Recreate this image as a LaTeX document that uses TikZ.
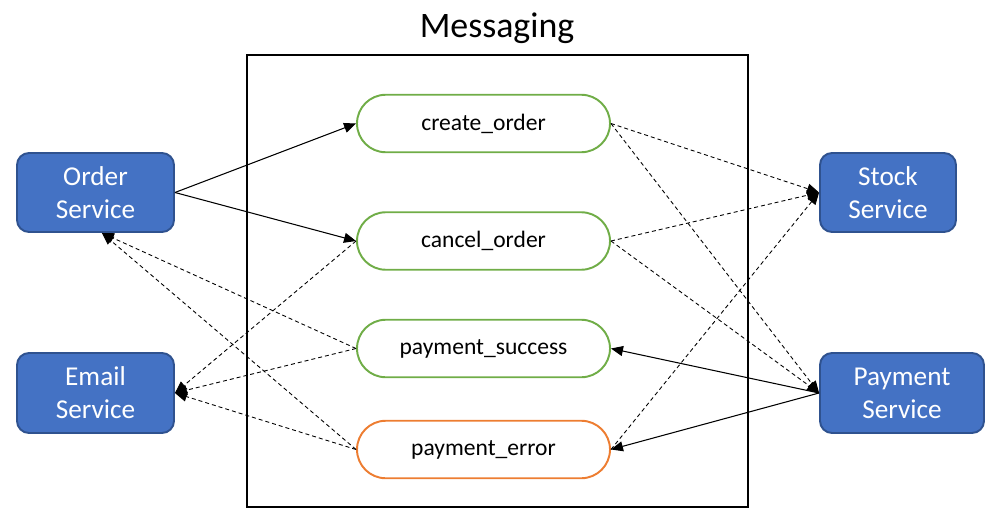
\documentclass[tikz,border=0pt]{standalone}
\usepackage{fontspec}
\setmainfont{Carlito}
\usetikzlibrary{arrows.meta,shapes.misc}

\definecolor{svcblue}{HTML}{4472C4}
\definecolor{svcedge}{HTML}{2F528F}
\definecolor{topicgreen}{HTML}{70AD47}
\definecolor{topicorange}{HTML}{ED7D31}

\tikzset{
	service/.style={draw=svcedge, line width=1.1pt, fill=svcblue, rounded corners=0.24cm,
		text=white, align=center, inner sep=0pt,
		font=\fontsize{15.5}{18.7}\selectfont},
	topic/.style={rounded rectangle, draw=topicgreen, line width=1.1pt, fill=white,
		minimum width=5.06cm, minimum height=1.15cm, inner sep=0pt,
		font=\fontsize{13.4}{16}\selectfont},
	pub/.style={-{Triangle[length=0.24cm,width=0.2cm]}, line width=0.6pt},
	sub/.style={-{Triangle[length=0.24cm,width=0.2cm]}, line width=0.5pt,
		dash pattern=on 0.08cm off 0.06cm}
}

\begin{document}
\begin{tikzpicture}
	\useasboundingbox (0,0) rectangle (19.98,10.38);

	\node (T) at (9.94,9.82) {\fontsize{20.4}{24}\selectfont Messaging};
	\draw [line width=1.1pt] (4.94,0.24) rectangle (14.96,9.28);

	\node (OS) [service, minimum width=3.14cm, minimum height=1.58cm] at (1.91,6.53) {Order\\Service};
	\node (ES) [service, minimum width=3.14cm, minimum height=1.60cm] at (1.91,2.52) {Email\\Service};
	\node (SS) [service, minimum width=2.72cm, minimum height=1.58cm] at (17.76,6.53) {Stock\\Service};
	\node (PS) [service, minimum width=3.28cm, minimum height=1.60cm] at (18.04,2.52) {Payment\\Service};

	\node (co) [topic] at (9.67,7.91) {create\_order};
	\node (cn) [topic] at (9.67,5.56) {cancel\_order};
	\node (ps) [topic] at (9.67,3.41) {payment\_success};
	\node (pe) [topic, draw=topicorange] at (9.67,1.39) {payment\_error};

	% producers
	\draw [pub] (OS.east) to (co.west);
	\draw [pub] (OS.east) to (cn.west);
	\draw [pub] (PS.west) to (ps.east);
	\draw [pub] (PS.west) to (pe.east);

	% consumers
	\draw [sub] (co.east) to (SS.west);
	\draw [sub] (co.east) to (PS.west);
	\draw [sub] (cn.east) to (SS.west);
	\draw [sub] (cn.east) to (PS.west);
	\draw [sub] (pe.east) to (SS.west);
	\draw [sub] (cn.west) to (ES.east);
	\draw [sub] (ps.west) to (OS.-81);
	\draw [sub] (ps.west) to (ES.east);
	\draw [sub] (pe.west) to (OS.-81);
	\draw [sub] (pe.west) to (ES.east);
\end{tikzpicture}
\end{document}
